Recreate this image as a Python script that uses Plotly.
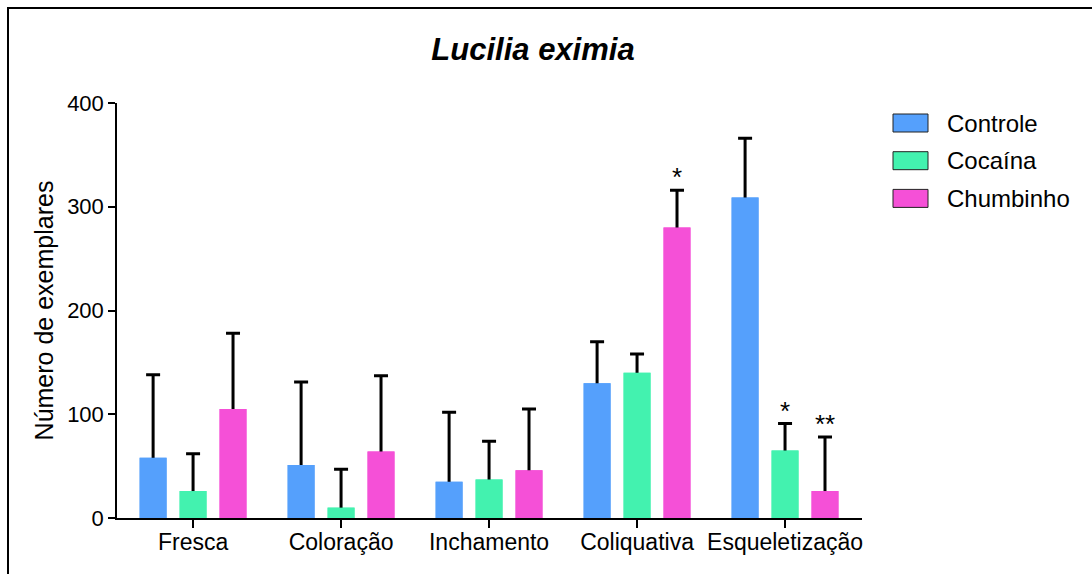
import plotly.graph_objects as go

# ---------------- data ----------------
categories = ["Fresca", "Coloração", "Inchamento", "Coliquativa", "Esqueletização"]
series_names = ["Controle", "Cocaína", "Chumbinho"]
controle_mean = [58, 51, 35, 130, 309]
controle_err = [80, 80, 67, 40, 57]
cocaina_mean = [26, 10, 37, 140, 65]
cocaina_err = [36, 37, 37, 18, 26]
chumbinho_mean = [105, 64, 46, 280, 26]
chumbinho_err = [73, 73, 59, 36, 52]
cocaina_sig = ["", "", "", "", "*"]
chumbinho_sig = ["", "", "", "*", "**"]
y_ticks = [0, 100, 200, 300, 400]

colors = ["#55A0FC", "#43F2AF", "#F550D7"]
means = [controle_mean, cocaina_mean, chumbinho_mean]
errs = [controle_err, cocaina_err, chumbinho_err]
sigs = [None, cocaina_sig, chumbinho_sig]

FONT = "Liberation Sans, Arial, sans-serif"
W, H = 1092, 574
L, R, T, B = 117, 230, 103, 56
pw, ph = W - L - R, H - T - B


def px_x(x):
    return (x - L) / pw


def px_y(y):
    return 1 - (y - T) / ph


BARGAP = 0.19
BARGROUPGAP = 0.326

fig = go.Figure()
# bars carrying the (upper-only) error bars; the lower part of each error
# bar runs down inside the bar and is hidden by the overlay bars below
for k, (name, m, e, c) in enumerate(zip(series_names, means, errs, colors)):
    fig.add_trace(go.Bar(
        x=categories, y=m, name=name, offsetgroup=str(k),
        marker=dict(color=c, line=dict(width=0)),
        error_y=dict(type="data", symmetric=False, array=e,
                     arrayminus=m, color="black",
                     thickness=3, width=7),
        showlegend=False, hoverinfo="skip",
    ))
for k, (name, m, c) in enumerate(zip(series_names, means, colors)):
    fig.add_trace(go.Bar(
        x=categories, y=m, name=name, offsetgroup=str(k),
        marker=dict(color=c, line=dict(width=0)),
        showlegend=False,
    ))

# significance marks above the error bars
slot = (1 - BARGAP) / len(series_names)
annotations = []
for k, sig in enumerate(sigs):
    if sig is None:
        continue
    for i, s in enumerate(sig):
        if s:
            annotations.append(dict(
                x=i + (k - (len(series_names) - 1) / 2) * slot,
                y=means[k][i] + errs[k][i], xref="x", yref="y",
                text=s, showarrow=False, yanchor="middle", yshift=13,
                font=dict(family=FONT, size=26, color="black")))

# custom legend
for i, (name, c) in enumerate(zip(series_names, colors)):
    yc = 123 + 37.7 * i
    fig.add_shape(type="rect", xref="paper", yref="paper",
                  x0=px_x(893), x1=px_x(928), y0=px_y(yc - 9), y1=px_y(yc + 9),
                  fillcolor=c, line=dict(color="#222222", width=1))
    annotations.append(dict(x=px_x(945), y=px_y(yc), xref="paper", yref="paper",
                            text=name, showarrow=False, xanchor="left",
                            yanchor="middle",
                            font=dict(family=FONT, size=24, color="black")))

# frame lines (top and left)
fig.add_shape(type="line", xref="paper", yref="paper",
              x0=px_x(7), x1=px_x(1100), y0=px_y(8), y1=px_y(8),
              line=dict(color="black", width=2))
fig.add_shape(type="line", xref="paper", yref="paper",
              x0=px_x(8), x1=px_x(8), y0=px_y(7), y1=px_y(580),
              line=dict(color="black", width=2))

fig.update_layout(
    width=W, height=H,
    margin=dict(l=L, r=R, t=T, b=B),
    paper_bgcolor="white", plot_bgcolor="white",
    barmode="group", bargap=BARGAP, bargroupgap=BARGROUPGAP,
    title=dict(text="<b><i>Lucilia eximia</i></b>", x=533 / W, y=1 - 49 / H,
               xanchor="center", yanchor="middle", xref="container",
               yref="container",
               font=dict(family=FONT, size=31, color="black")),
    font=dict(family=FONT, color="black"),
    annotations=annotations,
    xaxis=dict(range=[-0.514, 4.52], showline=True, linecolor="black",
               linewidth=1.5, ticks="outside", ticklen=8, tickwidth=1.5,
               tickcolor="black", showgrid=False, zeroline=False,
               ticklabelstandoff=-5,
               tickfont=dict(family=FONT, size=23, color="black")),
    yaxis=dict(range=[0, 400], tickvals=y_ticks, showline=True,
               linecolor="black", linewidth=1.5, ticks="outside", ticklen=7,
               tickwidth=1.5, tickcolor="black", showgrid=False,
               zeroline=False,
               tickfont=dict(family=FONT, size=22, color="black"),
               title=dict(text="Número de exemplares", standoff=6,
                          font=dict(family=FONT, size=25, color="black"))),
)

fig.write_html("out.html")
